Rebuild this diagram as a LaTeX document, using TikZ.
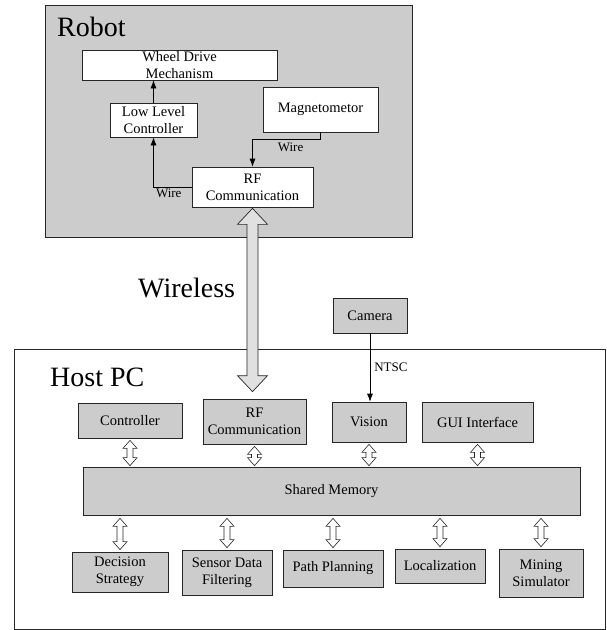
\documentclass[tikz,border=0pt]{standalone}
\usepackage{fontspec}
\setmainfont{Liberation Serif}
\usetikzlibrary{arrows.meta,calc,positioning}
\definecolor{stipple}{gray}{0.80}
\definecolor{edge}{gray}{0.15}
\newcommand{\boxfont}{\fontsize{14.5}{17}\selectfont}
\newcommand{\bigfont}{\fontsize{28}{30}\selectfont}
\newcommand{\tagfont}{\fontsize{13}{14}\selectfont}
\tikzstyle{frame} = [draw=edge, line width=0.8pt]
\tikzstyle{unit} = [draw=edge, line width=0.7pt, fill=white, align=center, inner sep=1pt, font=\boxfont]
\tikzstyle{task} = [unit, fill=stipple]
\tikzstyle{title} = [anchor=base west, inner sep=0pt, font=\bigfont]
\tikzstyle{tag} = [inner sep=1pt, font=\tagfont]
\tikzstyle{wire} = [draw=black, line width=0.7pt, -{Latex[length=8pt,width=6pt]}]
% hollow two-way block arrow, running down from start to target
% #1 half head width, #2 half shaft width, #3 head length
\tikzset{block arrow/.style n args={3}{to path={let \p1=(\tikztostart), \p2=(\tikztotarget) in
	(\p1) -- ({\x1+#1},{\y1-#3}) -- ({\x1+#2},{\y1-#3}) -- ({\x1+#2},{\y2+#3}) -- ({\x1+#1},{\y2+#3})
	-- (\x1,\y2) -- ({\x1-#1},{\y2+#3}) -- ({\x1-#2},{\y2+#3}) -- ({\x1-#2},{\y1-#3}) -- ({\x1-#1},{\y1-#3}) -- cycle}}}
\tikzstyle{duplex} = [draw=edge, line width=0.6pt, fill=white, line join=miter, block arrow={7pt}{3pt}{8pt}]
\tikzstyle{radio} = [draw=edge, line width=0.7pt, fill=stipple!60, line join=miter, block arrow={15pt}{5.5pt}{16pt}]

\begin{document}
\begin{tikzpicture}[x=1pt,y=-1pt]
	\useasboundingbox (0,0) rectangle (607,630);
	% Robot side
	\draw[frame, fill=stipple] (45,5) rectangle (412,237);
	\node[title] (robot) at (57,36) {Robot};
	\node[unit, minimum width=195, minimum height=30] (wheel) at (179.5,65) {Wheel Drive\\Mechanism};
	\node[unit, minimum width=87, minimum height=34] (lowctrl) at (153.5,120) {Low Level\\Controller};
	\node[unit, minimum width=115, minimum height=45] (magneto) at (320.5,109.5) {Magnetometor};
	\node[unit, minimum width=121, minimum height=40] (rfrobot) at (252.5,187) {RF\\Communication};
	% Wires:
	\draw[wire] (lowctrl.north) -- (lowctrl.north |- wheel.south);
	\draw[wire] (rfrobot.west) -| node[tag, pos=0.3, below=1pt] {Wire} (lowctrl.south);
	\draw[wire] (magneto.south) -- ++(0,7) -| node[tag, pos=0.22, below=2pt] {Wire} (rfrobot.north);

	% Camera
	\node[task, minimum width=74, minimum height=35] (camera) at (370,315.5) {Camera};

	% Host side
	\draw[frame, line width=0.6pt] (14,349) rectangle (605,629);
	\node[title] (host) at (50,386) {Host PC};
	\node[task, minimum width=104, minimum height=35] (ctrl) at (130,420.5) {Controller};
	\node[task, minimum width=103, minimum height=45] (rfhost) at (254.5,421.5) {RF\\Communication};
	\node[task, minimum width=74, minimum height=40] (vision) at (369,422) {Vision};
	\node[task, minimum width=111, minimum height=40] (gui) at (477.5,422) {GUI Interface};
	\node[task, minimum width=497, minimum height=48] (shared) at (331.5,491) {Shared Memory};
	\node[task, minimum width=96, minimum height=40] (decision) at (120,572) {Decision\\Strategy};
	\node[task, minimum width=90, minimum height=45] (filter) at (227,572.5) {Sensor Data\\Filtering};
	\node[task, minimum width=100, minimum height=37] (path) at (333,568.5) {Path Planning};
	\node[task, minimum width=90, minimum height=34] (local) at (440,566) {Localization};
	\node[task, minimum width=84, minimum height=48] (mining) at (541,573) {Mining\\Simulator};

	% Links:
	\draw[radio] ([yshift=-1pt]rfrobot.south) to ([yshift=7pt]rfrobot.south |- rfhost.north);
	\node[title] (wireless) at (138,297) {Wireless};
	\draw[wire] (camera.south) -- node[tag, right=3pt] {NTSC} (camera.south |- vision.north);
	\foreach \unitname in {ctrl,rfhost,vision,gui}
		\draw[duplex] ([yshift=-2pt]\unitname.south) to ([yshift=1pt]\unitname.south |- shared.north);
	\foreach \unitname in {decision,filter,path,local,mining}
		\draw[duplex] ([yshift=-3pt]\unitname.north |- shared.south) to ([yshift=2pt]\unitname.north);
\end{tikzpicture}
\end{document}
